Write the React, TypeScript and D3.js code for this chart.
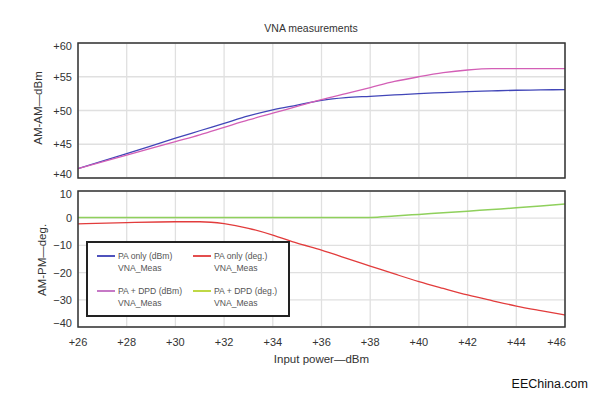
import React from "react";
import * as d3 from "d3";

// input power (dBm) sample points
const inputPower = [26, 28, 30, 31, 32, 33, 34, 35, 36, 37, 38, 39, 40, 41, 42, 43, 44, 45, 46];

// AM-AM (dBm)
const paOnlyDbm = [41.4, 43.6, 45.9, 47.0, 48.1, 49.2, 50.1, 50.8, 51.5, 51.9, 52.1, 52.3, 52.5, 52.65, 52.8, 52.9, 53.0, 53.05, 53.1];
const paDpdDbm = [41.4, 43.4, 45.4, 46.4, 47.5, 48.6, 49.6, 50.6, 51.6, 52.5, 53.4, 54.3, 55.0, 55.6, 56.0, 56.2, 56.2, 56.2, 56.2];

// AM-PM (deg.)
const paOnlyDeg = [-2.1, -1.6, -1.3, -1.3, -2.0, -3.7, -6.2, -9.2, -11.7, -14.7, -17.6, -20.5, -23.3, -25.8, -28.2, -30.3, -32.3, -34.0, -35.6];
const paDpdDeg = [0.3, 0.3, 0.3, 0.3, 0.3, 0.3, 0.3, 0.3, 0.3, 0.3, 0.3, 0.8, 1.4, 2.0, 2.6, 3.2, 3.8, 4.5, 5.2];

const xTicks = [26, 28, 30, 32, 34, 36, 38, 40, 42, 44, 46];
const amTicks = [40, 45, 50, 55, 60];
const pmTicks = [-40, -30, -20, -10, 0, 10];

const legendItems = [
  { label: "PA only (dBm)", color: "#3b3fb5", col: 0, row: 0 },
  { label: "PA only (deg.)", color: "#e03a3a", col: 1, row: 0 },
  { label: "PA + DPD (dBm)", color: "#c06ac0", col: 0, row: 1 },
  { label: "PA + DPD (deg.)", color: "#b8d432", col: 1, row: 1 },
];

const FONT = "'Liberation Sans', Arial, sans-serif";
const left = 78;
const right = 565;

const App = () => {
  const x = d3.scaleLinear().domain([26, 46]).range([left, right]);
  const yAm = d3.scaleLinear().domain([40, 60]).range([178, 43]);
  const yPm = d3.scaleLinear().domain([-40, 10]).range([327, 191]);

  const mkLine = (ys, yScale) =>
    d3
      .line<number>()
      .x((d, i) => x(inputPower[i]))
      .y((d) => yScale(d))
      .curve(d3.curveMonotoneX)(ys);

  const panel = (yScale, ticks, fmt, key) => {
    const [y0, y1] = yScale.range();
    return (
      <g key={key}>
        {xTicks.map((t) => (
          <line key={"vx" + t} x1={x(t)} x2={x(t)} y1={y1} y2={y0} stroke="#e0e0e0" strokeWidth={1.3} />
        ))}
        {ticks.map((t) => (
          <line key={"hy" + t} x1={left} x2={right} y1={yScale(t)} y2={yScale(t)} stroke="#e0e0e0" strokeWidth={1.3} />
        ))}
        {ticks.map((t) => {
          const yy = Math.min(Math.max(yScale(t), y1 + 3), y0 - 4);
          return (
            <text key={"ty" + t} x={72} y={yy} textAnchor="end" dominantBaseline="central" fontSize={11} fill="#333">
              {fmt(t)}
            </text>
          );
        })}
      </g>
    );
  };

  return (
    <svg width={595} height={398} style={{ position: "absolute", left: 0, top: 0 }} fontFamily={FONT}>
      <rect width={595} height={398} fill="#fff" />
      <text x={311} y={28} textAnchor="middle" dominantBaseline="central" fontSize={10.5} fill="#333">
        VNA measurements
      </text>

      {panel(yAm, amTicks, (t) => "+" + t, "am")}
      {panel(yPm, pmTicks, (t) => (t < 0 ? "\u2212" + Math.abs(t) : String(t)), "pm")}

      <path d={mkLine(paOnlyDbm, yAm)} fill="none" stroke="#4146b8" strokeWidth={1.3} />
      <path d={mkLine(paDpdDbm, yAm)} fill="none" stroke="#d35fb6" strokeWidth={1.3} />
      <path d={mkLine(paDpdDeg, yPm)} fill="none" stroke="#8fd05c" strokeWidth={1.5} />
      <path d={mkLine(paOnlyDeg, yPm)} fill="none" stroke="#e23c3c" strokeWidth={1.3} />

      <rect x={left} y={43} width={right - left} height={135} fill="none" stroke="#333" strokeWidth={1.5} />
      <rect x={left} y={191} width={right - left} height={136} fill="none" stroke="#333" strokeWidth={1.5} />

      {xTicks.map((t, i) => (
        <text
          key={"tx" + t}
          x={i === xTicks.length - 1 ? right + 1 : x(t)}
          y={342}
          textAnchor={i === xTicks.length - 1 ? "end" : "middle"}
          dominantBaseline="central"
          fontSize={11}
          fill="#333"
        >
          {"+" + t}
        </text>
      ))}
      <text x={(left + right) / 2} y={359} textAnchor="middle" dominantBaseline="central" fontSize={11.5} fill="#333">
        Input power{"\u2014"}dBm
      </text>

      <text transform="translate(38,108) rotate(-90)" textAnchor="middle" dominantBaseline="central" fontSize={11.5} fill="#333">
        AM-AM{"\u2014"}dBm
      </text>
      <text transform="translate(42,260) rotate(-90)" textAnchor="middle" dominantBaseline="central" fontSize={11.5} fill="#333">
        AM-PM{"\u2014"}deg.
      </text>

      <g>
        <rect x={87} y={242} width={202} height={74} fill="#fff" stroke="#222" strokeWidth={2} />
        {legendItems.map((it) => {
          const lx = 97 + it.col * 96;
          const ly = 256 + it.row * 35;
          return (
            <g key={it.label}>
              <line x1={lx} x2={lx + 18} y1={ly} y2={ly} stroke={it.color} strokeWidth={1.8} />
              <text x={lx + 21} y={ly} dominantBaseline="central" fontSize={8.6} fill="#555">
                {it.label}
              </text>
              <text x={lx + 21} y={ly + 12} dominantBaseline="central" fontSize={8.6} fill="#555">
                VNA_Meas
              </text>
            </g>
          );
        })}
      </g>

      <text x={588} y={384} textAnchor="end" dominantBaseline="central" fontSize={12.5} fill="#111">
        EEChina.com
      </text>
    </svg>
  );
};

export default App;
